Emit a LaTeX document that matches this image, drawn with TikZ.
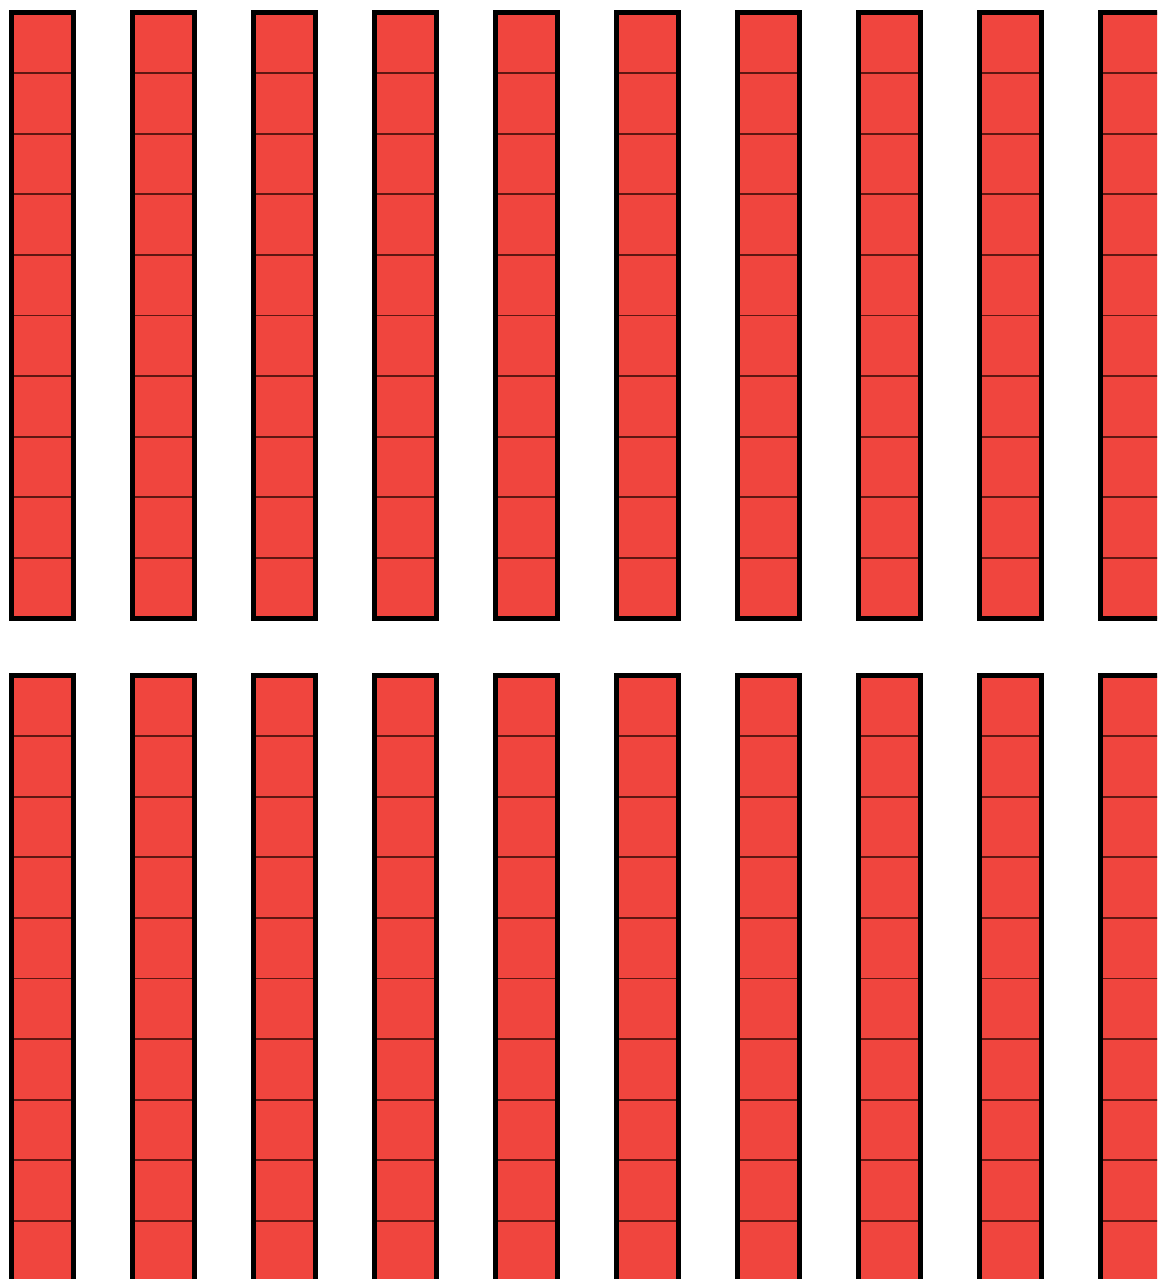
\documentclass[tikz,border=0pt]{standalone}
\definecolor{rodred}{RGB}{240,69,62}
\definecolor{divline}{RGB}{95,22,18}
\begin{document}
\begin{tikzpicture}[x=1pt,y=-1pt,
  rodfill/.style={fill=rodred, draw=none},
  rodframe/.style={draw=black, line width=5pt},
  celldiv/.style={draw=divline, line width=1.8pt}]
\useasboundingbox (0,0) rectangle (1157,1279);
\clip (0,0) rectangle (1157,1279);
\foreach \top in {12.5,675.5}{
  \foreach \c in {0,...,9}{
    \pgfmathsetmacro{\lx}{11.5+121*\c}
    \pgfmathsetmacro{\rx}{\lx+62}
    \path[rodfill] (\lx,\top) rectangle (\rx,\top+606);
    \foreach \k in {1,...,9}{
      \draw[celldiv] (\lx,\top+60.6*\k) -- (\rx,\top+60.6*\k);
    }
    \draw[rodframe] (\lx,\top) rectangle (\rx,\top+606);
  }
}
\end{tikzpicture}
\end{document}
